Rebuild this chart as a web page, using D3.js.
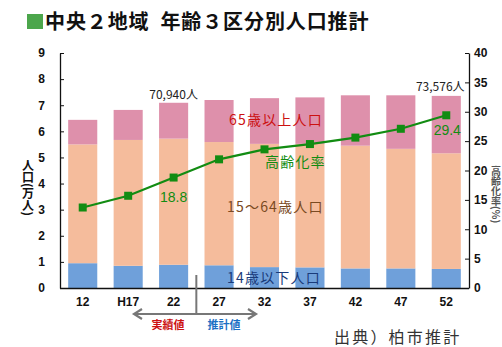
<!DOCTYPE html>
<html>
<head>
<meta charset="utf-8">
<script src="https://cdn.jsdelivr.net/npm/d3@7/dist/d3.min.js"></script>
<style>
  html, body { margin: 0; padding: 0; background: #fff; }
  svg { display: block; }
</style>
</head>
<body>
<div id="chart"></div>
<script>
// Years (Heisei) on the x axis
const years = ["12", "H17", "22", "27", "32", "37", "42", "47", "52"];
// Population by age group, in 万人
const under15 = [0.95, 0.85, 0.89, 0.87, 0.80, 0.79, 0.75, 0.75, 0.73];
const age15to64 = [4.55, 4.82, 4.83, 4.72, 4.72, 4.73, 4.70, 4.58, 4.43];
const over65 = [0.94, 1.15, 1.374, 1.61, 1.75, 1.78, 1.93, 2.05, 2.1976];
// Aging rate (%)
const agingRate = [13.7, 15.7, 18.8, 21.9, 23.6, 24.5, 25.6, 27.1, 29.4];
// Axis ticks
const leftTicks = [0, 1, 2, 3, 4, 5, 6, 7, 8, 9];
const rightTicks = [0, 5, 10, 15, 20, 25, 30, 35, 40];

const W = 502, H = 347;
const m = { left: 60, right: 33, top: 53, bottom: 59 };
const x0 = m.left, x1 = W - m.right, y0 = H - m.bottom, y1 = m.top;

const svg = d3.select("#chart").append("svg").attr("width", W).attr("height", H);

const x = d3.scaleBand().domain(years).range([x0, x1]).paddingInner(0.36).paddingOuter(0.18);
const yL = d3.scaleLinear().domain([0, 9]).range([y0, y1]);
const yR = d3.scaleLinear().domain([0, 40]).range([y0, y1]);

const numFont = "'Liberation Sans', Arial, sans-serif";
const jpFont = "'Noto Sans CJK JP', sans-serif";

// Title
svg.append("rect").attr("x", 27).attr("y", 14).attr("width", 16).attr("height", 15).attr("fill", "#4ca64c");
svg.append("text").attr("x", 45).attr("y", 29)
  .attr("font-family", jpFont).attr("font-weight", "bold").attr("font-size", 20)
  .attr("letter-spacing", 0.9).attr("fill", "#111")
  .text("中央２地域\u2002年齢３区分別人口推計");

// Stacked bars
const stackData = years.map((yr, i) => ({ yr, a: under15[i], b: age15to64[i], c: over65[i] }));
const series = d3.stack().keys(["a", "b", "c"])(stackData);
const colors = { a: "#6fa0da", b: "#f5bc9c", c: "#de90ab" };
svg.append("g").selectAll("g").data(series).join("g")
  .attr("fill", d => colors[d.key])
  .selectAll("rect").data(d => d).join("rect")
  .attr("x", d => x(d.data.yr))
  .attr("width", x.bandwidth())
  .attr("y", d => yL(d[1]))
  .attr("height", d => yL(d[0]) - yL(d[1]));

// Axes
const axisStyle = g => {
  g.selectAll("path").attr("stroke", "#111").attr("stroke-width", 1.3);
  g.selectAll("line").attr("stroke", "#111");
  g.selectAll("text").attr("font-family", numFont).attr("font-weight", "bold")
    .attr("font-size", 12).attr("fill", "#111");
};
svg.append("g").attr("transform", `translate(${x0},0)`)
  .call(d3.axisRight(yL).tickValues(leftTicks).tickSize(4).tickSizeOuter(0).tickFormat(d3.format("d")))
  .call(axisStyle)
  .call(g => g.selectAll("text").attr("x", -15).attr("text-anchor", "end"));
svg.append("g").attr("transform", `translate(${x1},0)`)
  .call(d3.axisLeft(yR).tickValues(rightTicks).tickSize(4).tickSizeOuter(0).tickFormat(d3.format("d")))
  .call(axisStyle)
  .call(g => g.selectAll("text").attr("x", 5).attr("text-anchor", "start"));
svg.append("line").attr("x1", x0).attr("x2", x1).attr("y1", y0 + 0.5).attr("y2", y0 + 0.5)
  .attr("stroke", "#111").attr("stroke-width", 1.3);
svg.append("g").selectAll("text").data(years).join("text")
  .attr("x", d => x(d) + x.bandwidth() / 2).attr("y", 306)
  .attr("text-anchor", "middle").attr("font-family", numFont).attr("font-weight", "bold")
  .attr("font-size", 12).attr("fill", "#111").text(d => d);

// Axis titles (vertical)
svg.append("text").attr("transform", "translate(28,159)")
  .attr("font-family", jpFont).attr("font-weight", "bold").attr("font-size", 12)
  .attr("fill", "#111").style("writing-mode", "vertical-rl").style("text-orientation", "mixed")
  .text("人口(万人)");
svg.append("text").attr("transform", "translate(496,166)")
  .attr("font-family", jpFont).attr("font-weight", "bold").attr("font-size", 10)
  .attr("fill", "#555").style("writing-mode", "vertical-rl").style("text-orientation", "mixed")
  .text("高齢化率(%)");

// Aging rate line
const cx = i => x(years[i]) + x.bandwidth() / 2;
svg.append("path").datum(agingRate)
  .attr("d", d3.line().x((d, i) => cx(i)).y(d => yR(d)))
  .attr("fill", "none").attr("stroke", "#128c12").attr("stroke-width", 2.2);
svg.append("g").selectAll("rect").data(agingRate).join("rect")
  .attr("x", (d, i) => cx(i) - 4).attr("y", d => yR(d) - 4)
  .attr("width", 8).attr("height", 8).attr("fill", "#128c12");

// Value labels
const totals = years.map((_, i) => under15[i] + age15to64[i] + over65[i]);
const fmtPeople = v => d3.format(",")(Math.round(v * 10000)) + "人";
[2, 8].forEach(i => {
  svg.append("text").attr("x", cx(i) + (i === 8 ? -6 : 0)).attr("y", yL(totals[i]) - (i === 8 ? 5 : 4))
    .attr("text-anchor", "middle").attr("font-family", jpFont).attr("font-size", 12)
    .attr("fill", "#222").text(fmtPeople(totals[i]));
});
svg.append("text").attr("x", cx(2)).attr("y", yR(agingRate[2]) + 24)
  .attr("text-anchor", "middle").attr("font-family", numFont).attr("font-size", 14)
  .attr("fill", "#128c12").text(agingRate[2].toFixed(1));
svg.append("text").attr("x", cx(8) + 1).attr("y", yR(agingRate[8]) + 20)
  .attr("text-anchor", "middle").attr("font-family", numFont).attr("font-size", 14)
  .attr("fill", "#128c12").text(agingRate[8].toFixed(1));

// Series labels
const seriesLabels = [
  { t: "65歳以上人口", x: 229, y: 125, c: "#cc1111" },
  { t: "高齢化率", x: 265, y: 167, c: "#128c12" },
  { t: "15～64歳人口", x: 227, y: 212, c: "#7a4a22" },
  { t: "14歳以下人口", x: 227, y: 283, c: "#1a3b7a" }
];
svg.append("g").selectAll("text").data(seriesLabels).join("text")
  .attr("x", d => d.x).attr("y", d => d.y)
  .attr("font-family", jpFont).attr("font-size", 14).attr("letter-spacing", 1.2)
  .attr("fill", d => d.c).text(d => d.t);

// Actual / projected divider
const divX = (x("22") + x.bandwidth() + x("27")) / 2;
svg.append("line").attr("x1", divX).attr("x2", divX).attr("y1", 275).attr("y2", 314)
  .attr("stroke", "#777").attr("stroke-width", 2);
svg.append("line").attr("x1", 136).attr("x2", 254).attr("y1", 314).attr("y2", 314)
  .attr("stroke", "#777").attr("stroke-width", 2);
svg.append("path").attr("d", "M142,309 L134,314 L142,319").attr("fill", "none").attr("stroke", "#777").attr("stroke-width", 2.2);
svg.append("path").attr("d", "M248,309 L256,314 L248,319").attr("fill", "none").attr("stroke", "#777").attr("stroke-width", 2.2);
svg.append("text").attr("x", 168).attr("y", 329).attr("text-anchor", "middle")
  .attr("font-family", jpFont).attr("font-weight", "bold").attr("font-size", 11)
  .attr("fill", "#cc1111").text("実績値");
svg.append("text").attr("x", 224).attr("y", 329).attr("text-anchor", "middle")
  .attr("font-family", jpFont).attr("font-weight", "bold").attr("font-size", 11)
  .attr("fill", "#1a6fc4").text("推計値");

// Source
svg.append("text").attr("x", 334).attr("y", 343)
  .attr("font-family", jpFont).attr("font-size", 16).attr("letter-spacing", 2.2).attr("fill", "#333")
  .text("出典）柏市推計");
</script>
</body>
</html>
